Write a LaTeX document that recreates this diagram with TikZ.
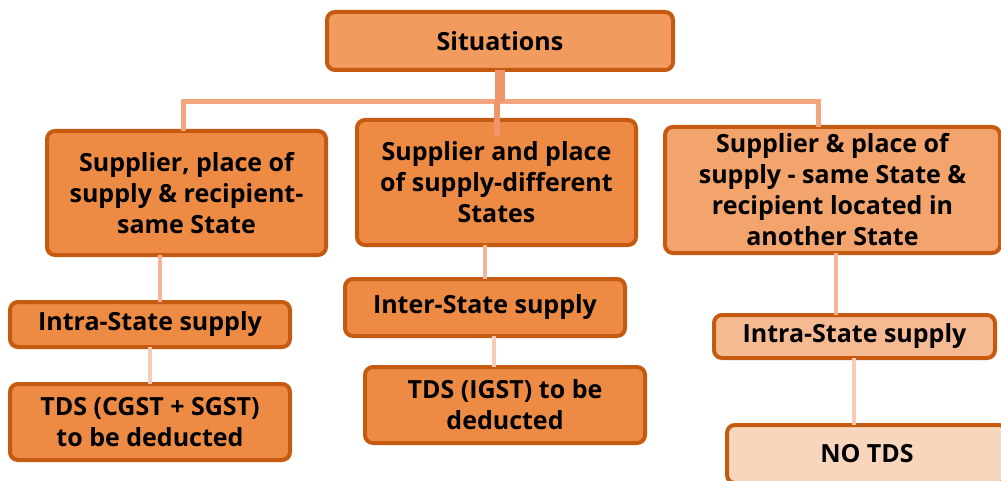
\documentclass[tikz,border=0pt]{standalone}
\usepackage{fontspec}
\setmainfont{Open Sans}
\usetikzlibrary{calc}
\definecolor{edge}{HTML}{C55A11}
\definecolor{topfill}{HTML}{F19B5E}
\definecolor{midfill}{HTML}{ED8B45}
\definecolor{palefill}{HTML}{F2A46C}
\definecolor{paler}{HTML}{F5BA92}
\definecolor{palest}{HTML}{F8D6BD}
\definecolor{trunk}{HTML}{F0956A}
\definecolor{bar}{HTML}{F3A67E}
\definecolor{twig}{HTML}{F3B49A}
\definecolor{leaf}{HTML}{F7CBB6}

\begin{document}
\begin{tikzpicture}[x=1pt,y=-1pt,font=\bfseries\fontsize{25}{31}\selectfont]
  \tikzstyle{box}=[draw=edge,line width=4pt,rounded corners=8pt,fill=midfill,align=center,inner sep=0pt,outer sep=0pt,text=black]
  \tikzstyle{link}=[line width=4pt]
  \useasboundingbox (0,0) rectangle (1001,481);

  \node[box,fill=topfill,minimum width=346pt,minimum height=58pt] (sit) at (500,41) {Situations};
  \node[box,minimum width=279pt,minimum height=124pt] (case1) at (186.5,193) {Supplier, place of\\ supply \& recipient-\\ same State};
  \node[box,minimum width=279pt,minimum height=125pt] (case2) at (496.5,182.5) {Supplier and place\\ of supply-different\\ States};
  \node[box,fill=palefill,minimum width=335pt,minimum height=126pt] (case3) at (832.5,190) {Supplier \& place of\\ supply - same State \&\\ recipient located in\\ another State};

  \node[box,minimum width=280pt,minimum height=45pt] (kind1) at (150,324.5) {Intra-State supply};
  \node[box,minimum width=280pt,minimum height=57pt] (kind2) at (485,307.5) {Inter-State supply};
  \node[box,fill=paler,minimum width=281pt,minimum height=43pt] (kind3) at (854.5,336.5) {Intra-State supply};

  \node[box,minimum width=280pt,minimum height=76pt] (tds1) at (150,422) {TDS (CGST + SGST)\\ to be deducted};
  \node[box,minimum width=280pt,minimum height=76pt] (tds2) at (505,405) {TDS (IGST) to be\\ deducted};
  \node[box,fill=palest,minimum width=280pt,minimum height=58pt] (tds3) at (867,454) {NO TDS};

  \coordinate (hub) at (500,102);
  \coordinate (b0) at (497,0);
  \coordinate (c1) at (160,0);
  \coordinate (c2) at (485,0);
  \coordinate (c3) at (836,0);
  \coordinate (d1) at (150,0);
  \coordinate (d2) at (494,0);
  \coordinate (d3) at (854,0);

  % tree lines, partly running into the boxes
  \draw[bar,line width=5pt] (case1.north -| 183,0) |- (hub) -| (case3.north -| 818,0);
  \draw[trunk,line width=10pt] (sit.south) -- (hub);
  \draw[trunk,line width=6pt,shorten >=-16pt] (hub -| b0) -- (case2.north -| b0);
  \draw[twig,link] (case1.south -| c1) -- (kind1.north -| c1);
  \draw[twig,link] (case2.south -| c2) -- (kind2.north -| c2);
  \draw[twig,link] (case3.south -| c3) -- (kind3.north -| c3);
  \draw[leaf,link] (kind1.south -| d1) -- (tds1.north -| d1);
  \draw[leaf,link] (kind2.south -| d2) -- (tds2.north -| d2);
  \draw[leaf,link] (kind3.south -| d3) -- (tds3.north -| d3);
\end{tikzpicture}
\end{document}
